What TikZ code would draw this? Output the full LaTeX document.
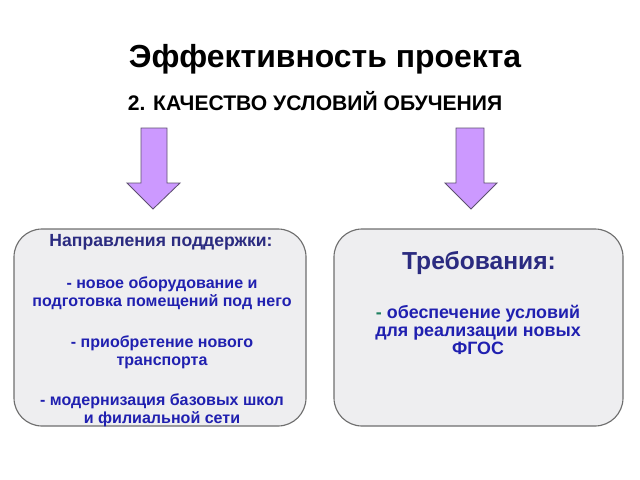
\documentclass[tikz,border=0pt]{standalone}
\usepackage{fontspec}
\setmainfont{Liberation Sans}
\usetikzlibrary{calc}

\definecolor{lilac}{HTML}{CC99FF}
\definecolor{lilacedge}{HTML}{5E5070}
\definecolor{boxfill}{HTML}{EEEEF0}
\definecolor{boxedge}{HTML}{6E6E6E}
\definecolor{headblue}{HTML}{2B2B80}
\definecolor{textblue}{HTML}{2020B0}
\definecolor{dashgreen}{HTML}{1E8060}

\tikzset{
    blockarrow/.style={fill=lilac, draw=lilacedge, line width=0.6pt},
    roundbox/.style={fill=boxfill, draw=boxedge, line width=0.8pt, rounded corners=0.7cm},
    boxtext/.style={align=center, font=\bfseries\fontsize{11.4}{12.8}\selectfont, text=textblue}
}

\begin{document}
\begin{tikzpicture}[x=0.025cm, y=-0.025cm]
        \useasboundingbox (0,0) rectangle (640,480);
        
        \node (title) at (325,59) {\bfseries\fontsize{22.7}{26}\selectfont Эффективность проекта};
        \node (subtitle) at (315,101) {\bfseries\fontsize{15}{18}\selectfont 2. КАЧЕСТВО УСЛОВИЙ ОБУЧЕНИЯ};
        
        % left arrow
        \draw[blockarrow] (141,128) -- (167,128) -- (167,183) -- (180,183) -- (153,209)
            -- (127,183) -- (141,183) -- cycle;
        % right arrow
        \draw[blockarrow] (456,128) -- (484,128) -- (484,183) -- (497,183) -- (471,209)
            -- (445,183) -- (456,183) -- cycle;
        
        \draw[roundbox] (14,229) rectangle (306,426);
        \draw[roundbox] (334,229) rectangle (623,426);
        
        \node[boxtext, font=\bfseries\fontsize{12.5}{14}\selectfont, text=headblue] (supporthead) at (161,242)
            {Направления поддержки:};
        \node[boxtext] (supportlist) at (162,352) {- новое оборудование и\\
            подготовка помещений под него\\[16pt]
            - приобретение нового\\ транспорта\\[16pt]
            - модернизация базовых школ\\ и филиальной сети};
        
        \node[font=\bfseries\fontsize{17.5}{20}\selectfont, text=headblue] (reqhead) at (479,263) {Требования:};
        \node[boxtext, font=\bfseries\fontsize{12.7}{12.8}\selectfont] (reqlist) at (478,330)
            {{\color{dashgreen}-} обеспечение условий\\ для реализации новых\\ ФГОС};
        
    \end{tikzpicture}
\end{document}
